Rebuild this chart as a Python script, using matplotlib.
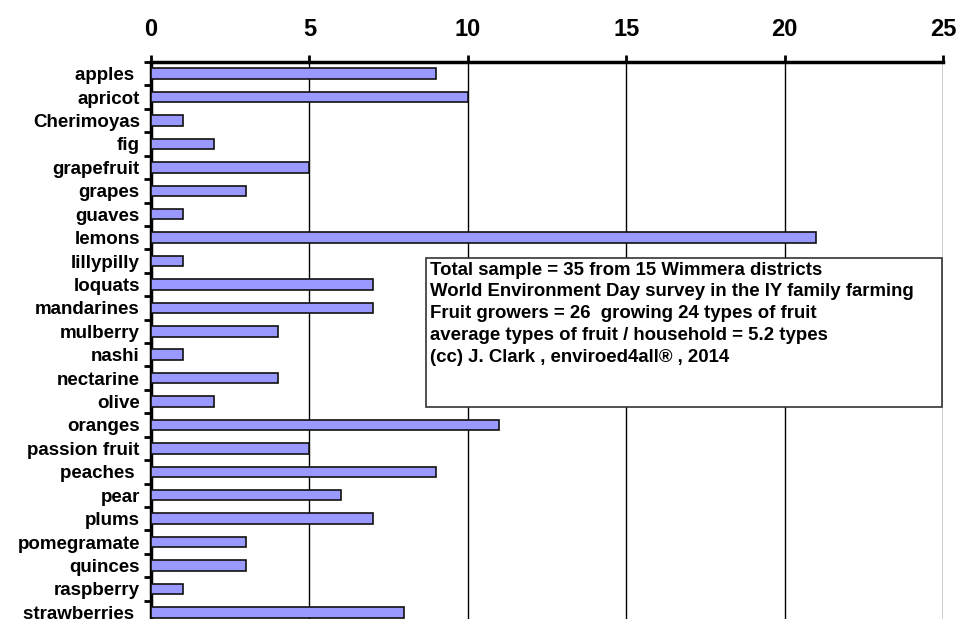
import matplotlib
matplotlib.use('Agg')
import matplotlib.pyplot as plt
import numpy as np
from matplotlib.patches import Rectangle

fruits = ['apples ', 'apricot', 'Cherimoyas', 'fig', 'grapefruit', 'grapes',
          'guaves', 'lemons', 'lillypilly', 'loquats', 'mandarines', 'mulberry',
          'nashi', 'nectarine', 'olive', 'oranges', 'passion fruit', 'peaches ',
          'pear', 'plums', 'pomegramate', 'quinces', 'raspberry', 'strawberries ']
growers = [9, 10, 1, 2, 5, 3, 1, 21, 1, 7, 7, 4, 1, 4, 2, 11, 5, 9, 6, 7, 3, 3, 1, 8]
xticks = [0, 5, 10, 15, 20, 25]

notes = ['Total sample = 35 from 15 Wimmera districts',
         'World Environment Day survey in the IY family farming',
         'Fruit growers = 26  growing 24 types of fruit',
         'average types of fruit / household = 5.2 types',
         '(cc) J. Clark , enviroed4all\u00ae , 2014']

plt.rcParams['font.family'] = ['Liberation Sans', 'DejaVu Sans']
plt.rcParams['font.weight'] = 'bold'

fig = plt.figure(figsize=(9.58, 6.19), dpi=100)
ax = fig.add_axes([0.1576, -0.0081, 0.8267, 0.9079])

pos = np.arange(len(fruits))
ax.barh(pos, growers, height=0.45, color='#9999ff', edgecolor='#111111',
        linewidth=1.2, zorder=3)

ax.set_xlim(0, 25)
ax.set_ylim(len(fruits) - 0.5, -0.5)
ax.xaxis.tick_top()
ax.set_xticks(xticks)
ax.set_xticklabels([str(t) for t in xticks], fontsize=17, fontweight='bold')
ax.tick_params(axis='x', direction='out', length=5, width=2, pad=10)
ax.grid(axis='x', color='black', linewidth=1.0, zorder=1)

ax.set_yticks(pos)
ax.set_yticklabels(fruits, fontsize=13.5, fontweight='bold')
ax.tick_params(axis='y', which='major', length=0, pad=8)
ax.set_yticks(np.arange(len(fruits) + 1) - 0.5, minor=True)
ax.tick_params(axis='y', which='minor', direction='out', length=5, width=2)

for side in ['right', 'bottom']:
    ax.spines[side].set_visible(False)
ax.spines['top'].set_linewidth(2.5)
ax.spines['left'].set_linewidth(2.5)

# note box with survey details
fig.patches.append(Rectangle((0.4447, 0.3425), 0.5386, 0.2407, transform=fig.transFigure,
                             facecolor='white', edgecolor='#333333', linewidth=1.2,
                             zorder=5))
for i, line in enumerate(notes):
    fig.text(0.4488, 0.5636 - i * 0.0352, line, fontsize=13.4, fontweight='bold',
             va='center', ha='left', zorder=6)

fig.savefig('out.png', dpi=100)
